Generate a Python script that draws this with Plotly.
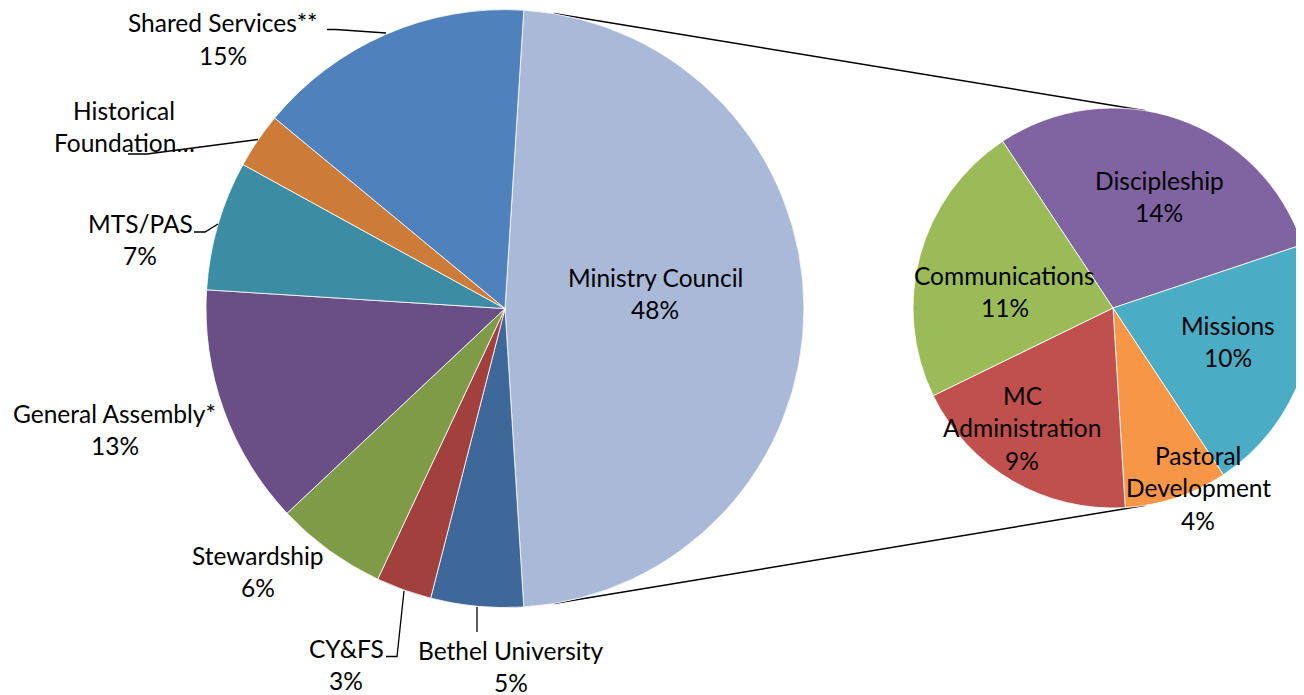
import math
import plotly.graph_objects as go

# ---------------- data ----------------
main_labels = ["Ministry Council", "Bethel University", "CY&FS", "Stewardship",
               "General Assembly*", "MTS/PAS", "Historical Foundation", "Shared Services**"]
main_values = [48, 5, 3, 6, 13, 7, 3, 15]
main_colors = ["#AAB9D8", "#3F689A", "#A2403D", "#7F9B48", "#694F86", "#3C8DA4", "#CC7B38", "#4F81BD"]

sub_labels = ["Discipleship", "Missions", "Pastoral Development", "MC Administration", "Communications"]
sub_values = [14, 10, 4, 9, 11]
sub_colors = ["#8064A2", "#4BACC6", "#F79646", "#C0504D", "#9BBB59"]

# label text lines (display) — percent appended where shown
main_label_lines = [["Ministry Council"], ["Bethel University"], ["CY&FS"], ["Stewardship"],
                    ["General Assembly*"], ["MTS/PAS"], ["Historical", "Foundation…"], ["Shared Services**"]]
main_show_pct = [True, True, True, True, True, True, False, True]
sub_label_lines = [["Discipleship"], ["Missions"], ["Pastoral", "Development"], ["MC", "Administration"],
                   ["Communications"]]

# ---------------- layout geometry (pixels, as seen on screen) ----------------
OFF = 8                      # page body margin in front of the figure
W, H = 1320, 695             # figure size
C1 = (505.0, 308.6); R1 = 299.0
C2 = (1113.0, 308.0); R2 = 200.0
LINE_H = 32.5
FONT = dict(family="Lato, Calibri, Carlito, sans-serif", size=24.5, color="#000000")

main_label_pos = [(655, 277), (510.5, 650), (346, 648.3), (257.5, 555), (114.5, 413.3),
                  (140, 223.3), (124, 110), (223, 22.7)]
sub_label_pos = [(1159, 180), (1227.5, 325), (1198, 455), (1022, 395), (1005, 275)]

# leader lines (screen-pixel polylines)
leaders = [
    [(327, 29.5), (336, 29.5), (386, 33)],          # Shared Services
    [(128, 154), (147, 154), (258, 139.5)],         # Historical Foundation
    [(194, 232), (205, 232), (218, 224)],           # MTS/PAS
    [(386, 656.5), (397, 656.5), (404, 591)],       # CY&FS
    [(477, 607), (477, 632)],                       # Bethel University
]


def px(x):
    return (x - OFF) / W


def py(y):
    return 1 - (y - OFF) / H


def domain(c, r):
    return dict(x=[px(c[0] - r), px(c[0] + r)], y=[py(c[1] + r), py(c[1] - r)])


fig = go.Figure()
fig.add_trace(go.Pie(
    labels=main_labels, values=main_values, sort=False, direction="clockwise", rotation=3.6,
    marker=dict(colors=main_colors, line=dict(color="white", width=0.8)),
    textinfo="none", hoverinfo="label+percent", domain=domain(C1, R1), showlegend=False,
))
fig.add_trace(go.Pie(
    labels=sub_labels, values=sub_values, sort=False, direction="clockwise", rotation=-33.5,
    marker=dict(colors=sub_colors, line=dict(color="white", width=0.8)),
    textinfo="none", hoverinfo="label+value", domain=domain(C2, R2), showlegend=False,
))

total = sum(main_values)
annotations = []


def add_label(lines, pos):
    x0, y0 = pos
    for k, t in enumerate(lines):
        annotations.append(dict(text=t, x=px(x0), y=py(y0 + k * LINE_H), xref="paper", yref="paper",
                                xanchor="center", yanchor="middle", showarrow=False, font=FONT))


for lines, show, v, pos in zip(main_label_lines, main_show_pct, main_values, main_label_pos):
    ls = list(lines) + ([f"{round(100 * v / total)}%"] if show else [])
    add_label(ls, pos)
for lines, v, pos in zip(sub_label_lines, sub_values, sub_label_pos):
    add_label(list(lines) + [f"{round(100 * v / total)}%"], pos)

shapes = []
for pts in leaders:
    path = "M " + " L ".join(f"{px(x):.5f},{py(y):.5f}" for x, y in pts)
    shapes.append(dict(type="path", path=path, xref="paper", yref="paper",
                       line=dict(color="black", width=1.3)))

# external tangent connectors between the two pies
d = C2[0] - C1[0]
theta = math.asin((R1 - R2) / d)
for sgn in (-1, 1):
    a1 = (C1[0] + R1 * math.sin(theta), C1[1] + sgn * R1 * math.cos(theta))
    a2 = (C2[0] + R2 * math.sin(theta), C2[1] + sgn * R2 * math.cos(theta))
    shapes.append(dict(type="line", xref="paper", yref="paper", x0=px(a1[0]), y0=py(a1[1]),
                       x1=px(a2[0]), y1=py(a2[1]), line=dict(color="black", width=1.5), layer="below"))

fig.update_layout(width=W, height=H, margin=dict(l=0, r=0, t=0, b=0),
                  paper_bgcolor="white", plot_bgcolor="white",
                  annotations=annotations, shapes=shapes, showlegend=False)
fig.write_html("out.html")
